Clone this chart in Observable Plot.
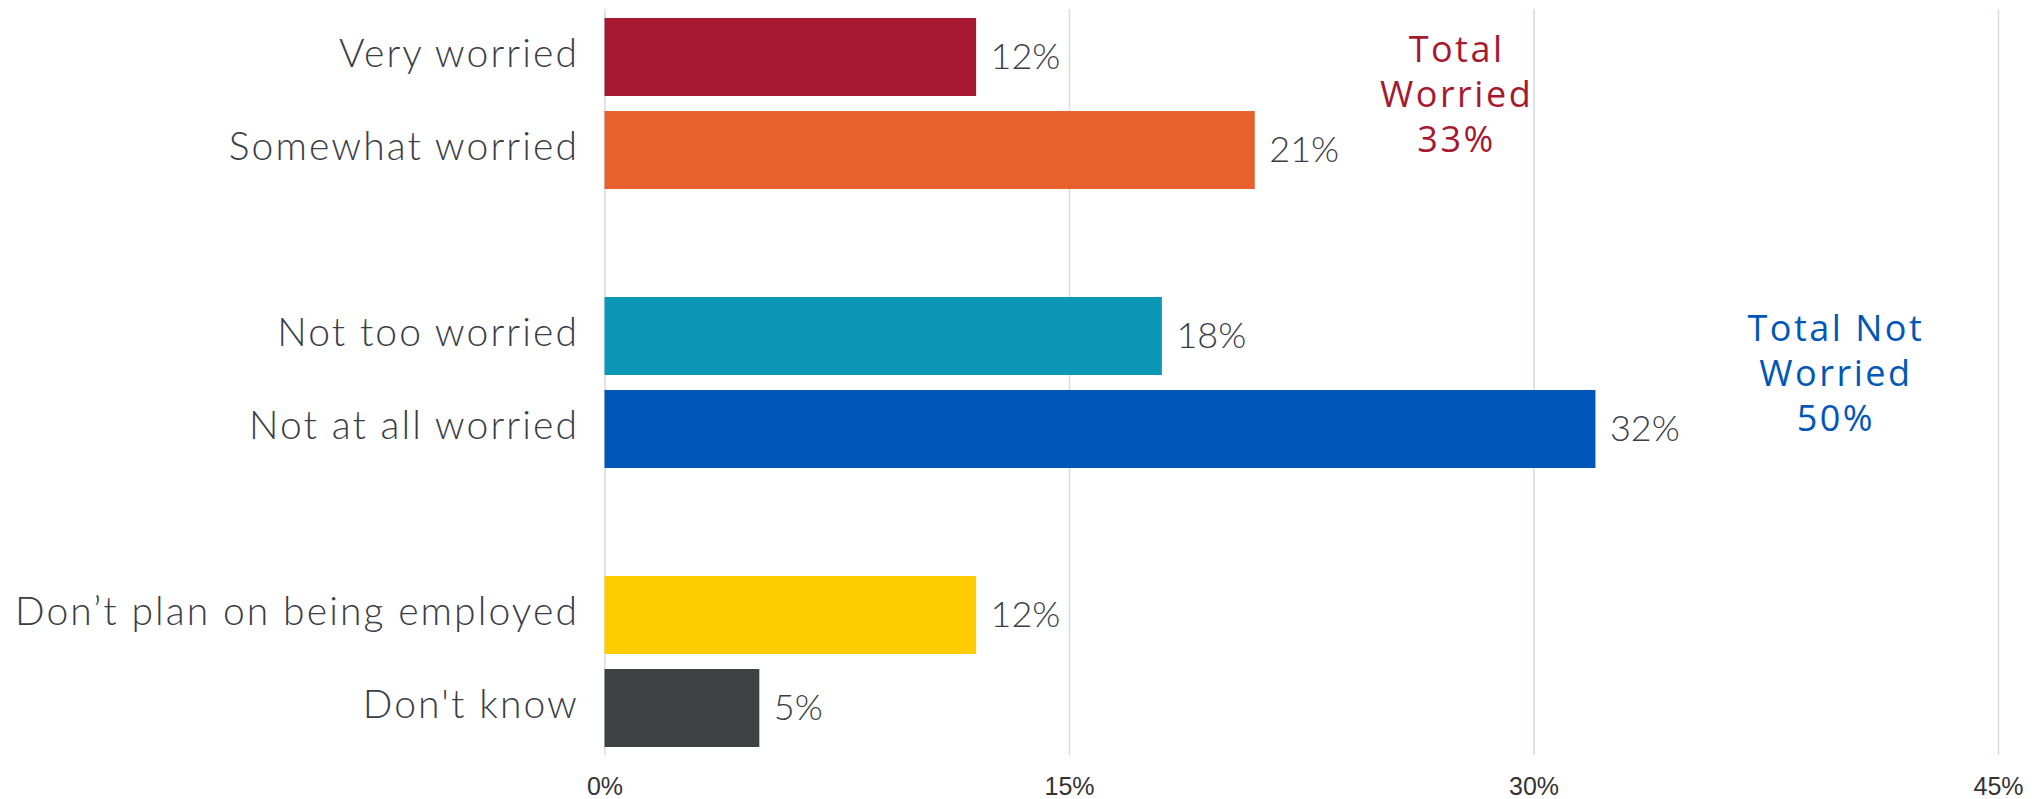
<!DOCTYPE html>
<html><head><meta charset="utf-8">
<script src="https://cdn.jsdelivr.net/npm/d3@7"></script>
<script src="https://cdn.jsdelivr.net/npm/@observablehq/plot@0.6"></script>
<style>
body{margin:0;background:#fff;}
</style>
</head><body><div id="chart"></div>
<script>
const categories = ["Very worried","Somewhat worried","Not too worried","Not at all worried","Don’t plan on being employed","Don't know"];
const values = [12,21,18,32,12,5];
const colors = ["#A71930","#E8612C","#0C97B6","#0057B8","#FFCC00","#3F4245"];
const spacers = ["gap1","gap2"];
const yDomain = [categories[0],categories[1],spacers[0],categories[2],categories[3],spacers[1],categories[4],categories[5]];
const xTicks = [0,15,30,45];
const annotationLines = [["Total","Worried","33%"],["Total Not","Worried","50%"]];
const annotationColors = ["#A71930","#0057B8"];
const annotationX = [27.5, 39.75];
const annotationAnchor = ["Very worried","Not too worried"];

const data = categories.map((c,i)=>({category:c, value:values[i], color:colors[i]}));
const annotations = annotationLines.map((l,i)=>({text:l.join("\n"), color:annotationColors[i], x:annotationX[i], anchor:annotationAnchor[i]}));

const labelFont = "Lato, Inter, sans-serif";
const chart = Plot.plot({
  width:2038, height:799, marginTop:9, marginBottom:44, marginLeft:604.5, marginRight:40,
  style:{fontFamily:labelFont, background:"#fff", overflow:"visible"},
  x:{domain:[0,45], label:null, axis:null},
  y:{domain:yDomain, paddingInner:0.164, paddingOuter:0.08, label:null, axis:null},
  color:{type:"identity"},
  marks:[
    Plot.gridX(xTicks,{stroke:"#d5dae3", strokeOpacity:1, strokeWidth:1.5}),
    Plot.barX(data,{x:"value", y:"category", fill:"color"}),
    Plot.text(data,{x:"value", y:"category", text:d=>d.value+"%", textAnchor:"start", dx:14, fontSize:36, fontWeight:300, fontFamily:labelFont, fill:"#3a3d47"}),
    Plot.axisY({ticks:categories, tickSize:0, tickPadding:26, fontSize:39, fontFamily:labelFont, fill:"#3a3d47", label:null, dy:-3}),
    Plot.axisX({ticks:xTicks, tickSize:0, tickPadding:22, tickFormat:d=>d+"%", fontSize:25, fontFamily:"Liberation Sans, Arial, sans-serif", fill:"#333", label:null}),
    Plot.text(annotations,{x:"x", y:"anchor", text:"text", lineHeight:1.25, fill:"color", dy:35, fontSize:36, fontFamily:"Open Sans, sans-serif"})
  ]
});
document.getElementById("chart").appendChild(chart);
const svg = d3.select(chart);
svg.selectAll('g[aria-label="y-axis tick label"] text').style("font-weight","300").style("letter-spacing","2.1px");
const textGroups = svg.selectAll('g[aria-label="text"]').nodes();
d3.select(textGroups[textGroups.length-1]).selectAll("text").style("letter-spacing","2.5px");
</script>
</body></html>
